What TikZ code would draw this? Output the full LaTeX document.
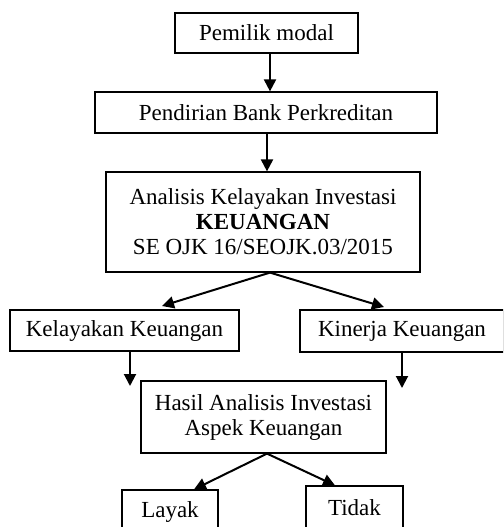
\documentclass[tikz,border=0pt]{standalone}
\usepackage{fontspec}
\setmainfont{Liberation Serif}
\usetikzlibrary{arrows.meta}
\begin{document}
\begin{tikzpicture}[x=1pt,y=-1pt,
  box/.style={draw,line width=1.2pt,align=center,inner sep=0pt,
    font=\fontsize{23}{25}\selectfont},
  arr/.style={line width=2pt,-{Triangle[width=12pt,length=12pt]}}]
\useasboundingbox (0,0) rectangle (503,527);
\begin{scope}
\clip (0,0) rectangle (503,527);
\node[box,minimum width=183pt,minimum height=40pt] (b1) at (266.5,33) {Pemilik modal};
\node[box,minimum width=342pt,minimum height=41pt] (b2) at (266,112.5) {Pendirian Bank Perkreditan};
\node[box,minimum width=314pt,minimum height=100pt] (b3) at (263,222) {Analisis Kelayakan Investasi\\\textbf{KEUANGAN}\\SE OJK 16/SEOJK.03/2015};
\node[box,minimum width=229pt,minimum height=41pt] (b4) at (124.5,330.5) {Kelayakan Keuangan};
\node[box,minimum width=204pt,minimum height=42pt] (b5) at (402,331) {Kinerja Keuangan};
\node[box,minimum width=245pt,minimum height=72pt] (b6) at (263.5,417) {Hasil Analisis Investasi\\Aspek Keuangan};
\node[box,minimum width=96pt,minimum height=44pt] (b7) at (170,512) {Layak};
\node[box,minimum width=97pt,minimum height=44pt] (b8) at (354.5,508) {Tidak};
\end{scope}
\coordinate (e4) at (130,386);
\coordinate (e5) at (402,388);
\draw[arr] (b1.south -| 270,0) -- (b2.north -| 270,0);
\draw[arr] (b2.south -| 267,0) -- (b3.north -| 267,0);
\draw[arr] (b3.south -| 270,0) -- (162,306);
\draw[arr] (b3.south -| 270,0) -- (384,307);
\draw[arr] (b4.south -| 130,0) -- (e4);
\draw[arr] (b5.south -| 402,0) -- (e5);
\draw[arr] (b6.south -| 267,0) -- (b7.north -| 194,0);
\draw[arr] (b6.south -| 267,0) -- (b8.north -| 335,0);
\end{tikzpicture}
\end{document}
